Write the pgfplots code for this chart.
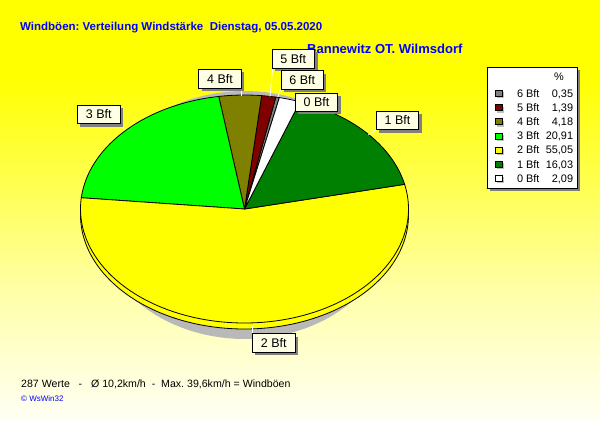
\documentclass[border=0pt]{standalone}
\usepackage{fontspec}
\setmainfont{Liberation Sans}
\usepackage{pgfplots}
\pgfplotsset{compat=1.18}
\usetikzlibrary{shadows}
\definecolor{cSix}{RGB}{128,128,128}
\definecolor{cFive}{RGB}{128,0,0}
\definecolor{cFour}{RGB}{128,128,0}
\definecolor{cThree}{RGB}{0,255,0}
\definecolor{cTwo}{RGB}{255,255,0}
\definecolor{cOne}{RGB}{0,128,0}
\definecolor{cZero}{RGB}{255,255,255}
\definecolor{ivory}{RGB}{255,255,228}
\definecolor{bgA}{RGB}{255,255,245}
\definecolor{bgB}{RGB}{255,255,170}
\definecolor{bgC}{RGB}{255,255,85}
\definecolor{pieshadow}{RGB}{185,185,185}
\definecolor{boxshadow}{RGB}{128,128,128}
\definecolor{swshadow}{RGB}{192,192,192}
\definecolor{titleblue}{RGB}{0,0,255}
% visible part of the shading is 25bp..75bp (bottom..top of the picture)
\pgfdeclareverticalshading{bgshade}{100bp}{color(0bp)=(bgA); color(25bp)=(bgA); color(40bp)=(bgB); color(52.5bp)=(bgC); color(66bp)=(cTwo); color(100bp)=(cTwo)}
\tikzset{
  lbl/.style={draw=black, line width=0.8bp, fill=ivory, minimum width=42.5bp, minimum height=18.5bp, inner sep=0pt,
    font=\fontsize{12.5bp}{14bp}\selectfont,
    drop shadow={shadow xshift=3bp, shadow yshift=-3bp, fill=boxshadow, opacity=1}},
  lead/.style={draw=white, line width=0.8bp}
}
% percentages (Verteilung Windstaerke)
\def\vOne{16.03}\def\vZero{2.09}\def\vSix{0.35}\def\vFive{1.39}\def\vFour{4.18}\def\vThree{20.91}\def\vTwo{55.05}%
\pgfmathsetmacro\aA{12.5}%
\pgfmathsetmacro\aB{\aA+3.6*\vOne}%
\pgfmathsetmacro\aC{\aB+3.6*\vZero}%
\pgfmathsetmacro\aD{\aC+3.6*\vSix}%
\pgfmathsetmacro\aE{\aD+3.6*\vFive}%
\pgfmathsetmacro\aF{\aE+3.6*\vFour}%
\pgfmathsetmacro\aG{\aF+3.6*\vThree}%
\pgfmathsetmacro\aH{\aG+3.6*\vTwo}%
\def\pcx{244.5}\def\pcy{209}\def\prx{164}\def\pry{114}\def\pth{6}%
\begin{document}%
\frenchspacing%
\begin{tikzpicture}
\begin{axis}[width=600bp, height=420bp, scale only axis,
  xmin=0, xmax=600, ymin=0, ymax=420, y dir=reverse,
  xtick=\empty, ytick=\empty, hide axis, clip=false,
  legend cell align=left,
  legend style={at={(axis cs:487,67)}, anchor=north west, draw=black, line width=0.8bp, fill=white,
    inner xsep=4.6bp, inner ysep=1.7bp, column sep=0pt, row sep=0pt,
    font=\fontsize{10.9bp}{13bp}\selectfont,
    nodes={inner sep=0pt, text height=9.8bp, text depth=4.37bp}},
  legend image code/.code={
    \path[draw=none, fill=none] (-3.1bp,-7bp) rectangle (22bp,7bp);
    \path[draw=none, fill=swshadow] (2bp,-3.8bp) rectangle (9bp,2.2bp);
    \path[#1, draw=black, line width=0.8bp] (0bp,-1.8bp) rectangle (7bp,4.2bp);
  },
]
% background
\shade[shading=bgshade] (axis cs:0,0) rectangle (axis cs:600,420);
% texts
\node[anchor=base west, inner sep=0pt, text=titleblue, font=\bfseries\fontsize{11.5bp}{13bp}\selectfont] at (axis cs:20,30) {Windböen: Verteilung Windstärke\ \ Dienstag, 05.05.2020};
\node[anchor=base west, inner sep=0pt, text=titleblue, font=\bfseries\fontsize{13bp}{15bp}\selectfont] at (axis cs:307,53) {Bannewitz OT. Wilmsdorf};
\node[anchor=base west, inner sep=0pt, font=\fontsize{10.6bp}{12bp}\selectfont] at (axis cs:21,387) {287 Werte\ \ \ -\ \ \ Ø 10,2km/h\ \ -\ \ Max. 39,6km/h = Windböen};
\node[anchor=base west, inner sep=0pt, text=titleblue, font=\fontsize{8bp}{9bp}\selectfont] at (axis cs:21,401.5) {© WsWin32};
% legend shadow
\fill[boxshadow] (axis cs:490,70) rectangle (axis cs:580.3,191);
% legend header
\addlegendimage{empty legend}
\addlegendentry[text height=10.9bp, text depth=7.5bp]{\makebox[56bp][r]{\%\hspace{9.4bp}}}
% pie shadow
\addplot[forget plot, fill=pieshadow, draw=none, domain=0:360, samples=120] ({\pcx+150*cos(x)},{215-124*sin(x)});
% side of the 2 Bft slice
\addplot[forget plot, fill=cTwo, draw=black, line width=0.8bp, domain=180:360, samples=100] ({\pcx+\prx*cos(x)},{\pcy+\pth-\pry*sin(x)}) -- (axis cs:\pcx+\prx,\pcy) -- (axis cs:\pcx-\prx,\pcy) -- cycle;
% slices
\addplot[fill=cSix, draw=black, line width=0.8bp, domain=\aC:\aD, samples=4] ({\pcx+\prx*cos(x)},{\pcy-\pry*sin(x)}) -- (axis cs:\pcx,\pcy) -- cycle;
\addlegendentry{\makebox[56bp][l]{6 Bft\hfill 0,35}}
\addplot[fill=cFive, draw=black, line width=0.8bp, domain=\aD:\aE, samples=6] ({\pcx+\prx*cos(x)},{\pcy-\pry*sin(x)}) -- (axis cs:\pcx,\pcy) -- cycle;
\addlegendentry{\makebox[56bp][l]{5 Bft\hfill 1,39}}
\addplot[fill=cFour, draw=black, line width=0.8bp, domain=\aE:\aF, samples=12] ({\pcx+\prx*cos(x)},{\pcy-\pry*sin(x)}) -- (axis cs:\pcx,\pcy) -- cycle;
\addlegendentry{\makebox[56bp][l]{4 Bft\hfill 4,18}}
\addplot[fill=cThree, draw=black, line width=0.8bp, domain=\aF:\aG, samples=50] ({\pcx+\prx*cos(x)},{\pcy-\pry*sin(x)}) -- (axis cs:\pcx,\pcy) -- cycle;
\addlegendentry{\makebox[56bp][l]{3 Bft\hfill 20,91}}
\addplot[fill=cTwo, draw=black, line width=0.8bp, domain=\aG:\aH, samples=120] ({\pcx+\prx*cos(x)},{\pcy-\pry*sin(x)}) -- (axis cs:\pcx,\pcy) -- cycle;
\addlegendentry{\makebox[56bp][l]{2 Bft\hfill 55,05}}
\addplot[fill=cOne, draw=black, line width=0.8bp, domain=\aA:\aB, samples=40] ({\pcx+\prx*cos(x)},{\pcy-\pry*sin(x)}) -- (axis cs:\pcx,\pcy) -- cycle;
\addlegendentry{\makebox[56bp][l]{1 Bft\hfill 16,03}}
\addplot[fill=cZero, draw=black, line width=0.8bp, domain=\aB:\aC, samples=8] ({\pcx+\prx*cos(x)},{\pcy-\pry*sin(x)}) -- (axis cs:\pcx,\pcy) -- cycle;
\addlegendentry{\makebox[56bp][l]{0 Bft\hfill 2,09}}
% leader lines
\draw[lead] (axis cs:368.3,135) -- (axis cs:376.7,129.3);
\draw[lead] (axis cs:281,89) -- (axis cs:277.8,97);
\draw[lead] (axis cs:272.7,68) -- (axis cs:270,96.5);
\draw[lead] (axis cs:241.7,89) -- (axis cs:241.7,95.5);
\draw[lead] (axis cs:120,123.3) -- (axis cs:125,130);
\draw[lead] (axis cs:252.3,333.3) -- (axis cs:252.3,326);
% slice labels
\node[lbl] at (axis cs:397.5,120.5) {1 Bft};
\node[lbl] at (axis cs:220,78.7) {4 Bft};
\node[lbl] at (axis cs:98.7,114.5) {3 Bft};
\node[lbl] at (axis cs:293.3,58.7) {5 Bft};
\node[lbl] at (axis cs:302.2,79.8) {6 Bft};
\node[lbl] at (axis cs:316.5,102.2) {0 Bft};
\node[lbl] at (axis cs:273.7,343) {2 Bft};
\end{axis}
\end{tikzpicture}%
\end{document}
